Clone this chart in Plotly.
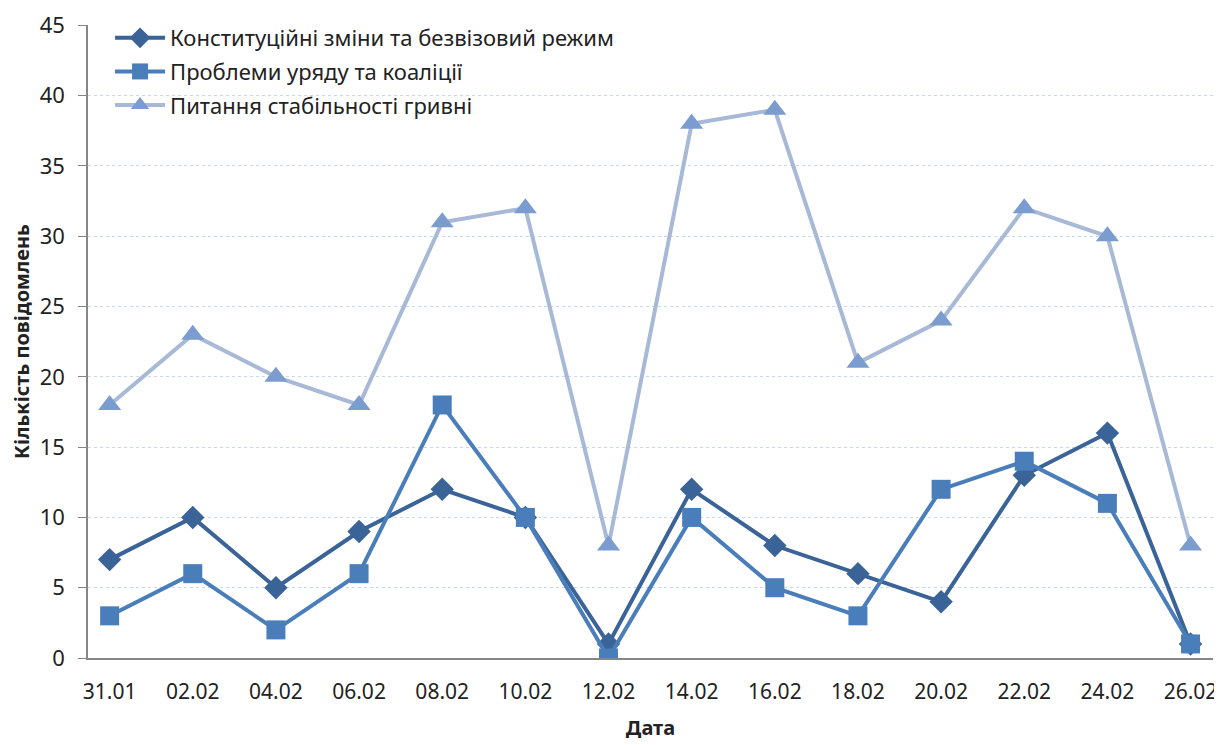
import plotly.graph_objects as go

dates = ["31.01", "02.02", "04.02", "06.02", "08.02", "10.02", "12.02",
         "14.02", "16.02", "18.02", "20.02", "22.02", "24.02", "26.02"]
constitution = [7, 10, 5, 9, 12, 10, 1, 12, 8, 6, 4, 13, 16, 1]
government = [3, 6, 2, 6, 18, 10, 0, 10, 5, 3, 12, 14, 11, 1]
hryvnia = [18, 23, 20, 18, 31, 32, 8, 38, 39, 21, 24, 32, 30, 8]

x = list(range(len(dates)))
font = "Noto Sans, Open Sans, sans-serif"

fig = go.Figure()

fig.add_trace(go.Scatter(
    x=x, y=constitution, mode="lines+markers",
    name="Конституційні зміни та безвізовий режим", legendgroup="a",
    line=dict(color="#3a6397", width=4),
    marker=dict(symbol="diamond", size=18, color="#3a6397")
))
fig.add_trace(go.Scatter(
    x=x, y=government, mode="lines+markers",
    name="Проблеми уряду та коаліції", legendgroup="b",
    line=dict(color="#4a7ebb", width=4),
    marker=dict(symbol="square", size=19, color="#4a7ebb")
))
fig.add_trace(go.Scatter(
    x=x, y=hryvnia, mode="lines+markers",
    name="Питання стабільності гривні", legendgroup="c",
    line=dict(color="#a7b9d6", width=4),
    marker=dict(symbol="triangle-up", size=20, color="#7b9ccf")
))

# page body adds an 8px offset, so the figure is a bit smaller than the window
fig.update_layout(
    width=1214, height=737,
    margin=dict(l=80, r=9, t=14, b=87),
    plot_bgcolor="white", paper_bgcolor="white",
    font=dict(family=font, size=22, color="#222222"),
    legend=dict(
        x=0.0196, y=1.0126, xanchor="left", yanchor="top",
        bgcolor="rgba(255,255,255,0)", font=dict(size=22),
        tracegroupgap=2, itemwidth=50
    ),
)

fig.update_xaxes(
    tickmode="array", tickvals=x, ticktext=dates,
    range=[-0.26, 13.27], automargin=False,
    showgrid=False, zeroline=False,
    showline=True, linecolor="#868686", linewidth=1.5,
    ticks="", ticklabelstandoff=14, tickfont=dict(size=21),
    title=dict(text="<b>Дата</b>", font=dict(size=20), standoff=17)
)
fig.update_yaxes(
    range=[0, 45.03], tickvals=[0, 5, 10, 15, 20, 25, 30, 35, 40, 45],
    automargin=False,
    showgrid=True, gridcolor="#c6d9f1", griddash="dot", gridwidth=1,
    zeroline=False,
    showline=True, linecolor="#868686", linewidth=1.5,
    ticks="outside", ticklen=8, tickcolor="#868686", ticklabelstandoff=9,
    title=dict(text="<b>Кількість повідомлень</b>", font=dict(size=20), standoff=12)
)

fig.write_html("out.html")
